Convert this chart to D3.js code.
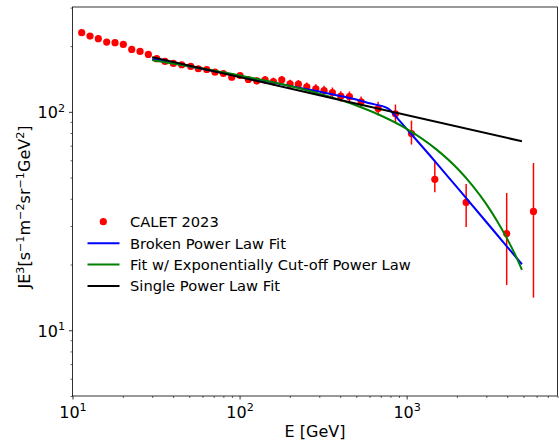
<!DOCTYPE html>
<meta charset="utf-8">
<style>
body { margin: 0; background: #fff; }
svg text { font-family: "DejaVu Sans", sans-serif; fill: #000; }
</style>
<svg width="559" height="441"></svg>
<script src="https://cdn.jsdelivr.net/npm/d3@7/dist/d3.min.js"></script>
<script>

// CALET 2023 points (E in GeV, J*E^3)
var energy = [11.35, 12.73, 14.27, 16.02, 17.97, 20.15, 22.62, 25.37, 28.45, 31.93,
  35.81, 40.16, 45.07, 51.04, 56.66, 63.6, 71.3, 80.0, 89.8, 100.7,
  112.9, 126.8, 142.1, 159.4, 178.9, 200.6, 225, 252.6, 286, 320.6,
  359.4, 403.6, 454.5, 534, 675, 857, 1069, 1475, 2272, 3971, 5745];
var flux = [230.4, 222.3, 216.2, 208.6, 207.3, 203.6, 193.1, 189.1, 183.2, 175.1,
  170.1, 166.6, 164.3, 161.4, 157.5, 156.3, 151.9, 149.8, 144.1, 146.7,
  140.6, 138.7, 140.2, 137.7, 140.2, 134.4, 133.8, 130.2, 127.5, 125.2,
  122.6, 117.9, 117.5, 111.1, 103.5, 97.9, 79.5, 49.1, 38.5, 27.7, 35.0];
var fluxLo = [225.8, 217.9, 211.9, 204.4, 203.2, 199.5, 189.2, 185.3, 179.5, 171.6,
  166.7, 163.3, 161.0, 158.2, 154.4, 153.2, 148.9, 146.8, 141.2, 143.1,
  136.4, 133.9, 134.6, 131.9, 134.6, 128.7, 127.9, 124.2, 121.3, 118.7,
  115.9, 111.5, 111.0, 104.5, 96.2, 89.0, 70.8, 42.8, 29.7, 16.1, 14.1];
var fluxHi = [235.0, 226.7, 220.5, 212.8, 211.4, 207.7, 197.0, 192.9, 186.9, 178.6,
  173.5, 169.9, 167.6, 164.6, 160.6, 159.4, 154.9, 152.8, 147.0, 150.3,
  144.8, 143.5, 145.8, 143.5, 145.8, 140.1, 139.7, 136.2, 133.7, 131.7,
  129.3, 124.3, 124.0, 117.7, 111.1, 108.0, 91.2, 59.8, 46.7, 42.5, 58.3];

// fit curves
var brokenE = [30, 50, 100, 200, 300, 400, 500, 600, 767, 900, 1000, 1500, 2000, 3000, 4000, 4900];
var brokenFit = [174.7, 161.8, 145.8, 131.5, 123.8, 118.3, 113.8, 109.4, 104.0, 91.6, 83.6, 58.6, 45.2, 31.3, 24.1, 20.05];

var cutoffE = [30, 50, 100, 200, 300, 500, 700, 1000, 1500, 2000, 2500, 3000, 3500, 4000, 4500, 4900];
var cutoffFit = [172.5, 161.6, 146.8, 131.2, 121.2, 106.9, 96.2, 83.6, 67.5, 55.3, 45.6, 37.8, 31.4, 26.2, 21.9, 18.9];

var singleE = [30, 400, 4900];
var singleFit = [178, 113.4, 73.3];

var xMajor = [10, 100, 1000];
var yMajor = [10, 100];

var svg = d3.select("svg"),
    mLeft = 72.5, mRight = 557.5, mTop = 7, mBottom = 396;

var x = d3.scaleLog().domain([10, 8000]).range([mLeft, mRight]);
var y = d3.scaleLog().domain([5, 302]).range([mBottom, mTop]);

var fs = 14.7,   // legend
    afs = 16;    // ticks and axis titles

function supLabel(sel, base, sup) {
  sel.text(null);
  sel.append("tspan").text(base);
  sel.append("tspan").attr("dy", -6.5).style("font-size", (afs * 0.7) + "px").text(sup);
}

// minor ticks
var xMinor = [], yMinor = [];
[10, 100, 1000].forEach(function(d) {
  d3.range(2, 10).forEach(function(k) { if (d * k <= 8000) xMinor.push(d * k); });
});
[1, 10, 100].forEach(function(d) {
  d3.range(2, 10).forEach(function(k) { if (d * k >= 5 && d * k <= 302) yMinor.push(d * k); });
});

svg.append("g")
    .attr("transform", "translate(0," + mBottom + ")")
    .call(d3.axisBottom(x).tickValues(xMinor).tickSize(2).tickFormat(""))
    .call(function(g) { g.select(".domain").remove(); g.selectAll("line").attr("stroke", "#000").attr("stroke-width", 0.6); });

svg.append("g")
    .attr("transform", "translate(" + mLeft + ",0)")
    .call(d3.axisLeft(y).tickValues(yMinor).tickSize(2).tickFormat(""))
    .call(function(g) { g.select(".domain").remove(); g.selectAll("line").attr("stroke", "#000").attr("stroke-width", 0.6); });

var xAxis = svg.append("g")
    .attr("transform", "translate(0," + mBottom + ")")
    .call(d3.axisBottom(x).tickValues(xMajor).tickSize(3.5).tickPadding(5));
xAxis.select(".domain").remove();
xAxis.selectAll("line").attr("stroke", "#000").attr("stroke-width", 0.8);
xAxis.selectAll("text")
    .style("font-size", afs + "px")
    .attr("dy", null).attr("y", 21.5)
    .each(function(d) { supLabel(d3.select(this), "10", Math.round(Math.log10(d))); });

var yAxis = svg.append("g")
    .attr("transform", "translate(" + mLeft + ",0)")
    .call(d3.axisLeft(y).tickValues(yMajor).tickSize(3.5).tickPadding(4));
yAxis.select(".domain").remove();
yAxis.selectAll("line").attr("stroke", "#000").attr("stroke-width", 0.8);
yAxis.selectAll("text")
    .style("font-size", afs + "px")
    .attr("dy", null).attr("y", 6)
    .each(function(d) { supLabel(d3.select(this), "10", Math.round(Math.log10(d))); });

// frame
svg.append("rect")
    .attr("x", mLeft).attr("y", mTop)
    .attr("width", mRight - mLeft).attr("height", mBottom - mTop)
    .attr("fill", "none").attr("stroke", "#000").attr("stroke-width", 0.8);

// axis titles
svg.append("text")
    .attr("x", (mLeft + mRight) / 2).attr("y", 437)
    .attr("text-anchor", "middle")
    .style("font-size", afs + "px")
    .text("E [GeV]");

var yl = svg.append("text")
    .attr("transform", "translate(30,207) rotate(-90)")
    .attr("text-anchor", "middle")
    .style("font-size", afs + "px");
[["JE", ""], ["3", "s"], ["[s", ""], ["\u22121", "s"], ["m", ""], ["\u22122", "s"],
 ["sr", ""], ["\u22121", "s"], ["GeV", ""], ["2", "s"], ["]", ""]].forEach(function(p, i, arr) {
  var t = yl.append("tspan").text(p[0]);
  if (p[1]) t.attr("dy", -6.5).style("font-size", (afs * 0.7) + "px");
  else if (i > 0 && arr[i - 1][1]) t.attr("dy", 6.5);
});

// data
var pts = d3.range(energy.length);
var plot = svg.append("g");

plot.selectAll(".err")
  .data(pts)
  .enter().append("line")
    .attr("class", "err")
    .attr("x1", function(i) { return x(energy[i]); })
    .attr("x2", function(i) { return x(energy[i]); })
    .attr("y1", function(i) { return y(fluxLo[i]); })
    .attr("y2", function(i) { return y(fluxHi[i]); })
    .attr("stroke", "red").attr("stroke-width", 1.5);

plot.selectAll(".pt")
  .data(pts)
  .enter().append("circle")
    .attr("class", "pt")
    .attr("cx", function(i) { return x(energy[i]); })
    .attr("cy", function(i) { return y(flux[i]); })
    .attr("r", 3.6)
    .attr("fill", "red");

var line = d3.line()
    .x(function(d) { return x(d[0]); })
    .y(function(d) { return y(d[1]); })
    .curve(d3.curveMonotoneX);

var fits = [
  {name: "Broken Power Law Fit", color: "blue", e: brokenE, v: brokenFit},
  {name: "Fit w/ Exponentially Cut-off Power Law", color: "green", e: cutoffE, v: cutoffFit},
  {name: "Single Power Law Fit", color: "black", e: singleE, v: singleFit}
];

fits.forEach(function(f) {
  plot.append("path")
      .datum(d3.zip(f.e, f.v))
      .attr("fill", "none")
      .attr("stroke", f.color)
      .attr("stroke-width", 2)
      .attr("d", line);
});

// legend
var lg = svg.append("g");
var rowY = [221.7, 243.2, 264.5, 286];
lg.append("circle").attr("cx", 103.3).attr("cy", rowY[0]).attr("r", 3.6).attr("fill", "red");
lg.append("text").attr("x", 130).attr("y", rowY[0] + 5.4).style("font-size", fs + "px").text("CALET 2023");
fits.forEach(function(f, i) {
  lg.append("line")
      .attr("x1", 87.5).attr("x2", 119.5)
      .attr("y1", rowY[i + 1]).attr("y2", rowY[i + 1])
      .attr("stroke", f.color).attr("stroke-width", 2);
  lg.append("text")
      .attr("x", 130).attr("y", rowY[i + 1] + 5.4)
      .style("font-size", fs + "px")
      .text(f.name);
});

</script>
